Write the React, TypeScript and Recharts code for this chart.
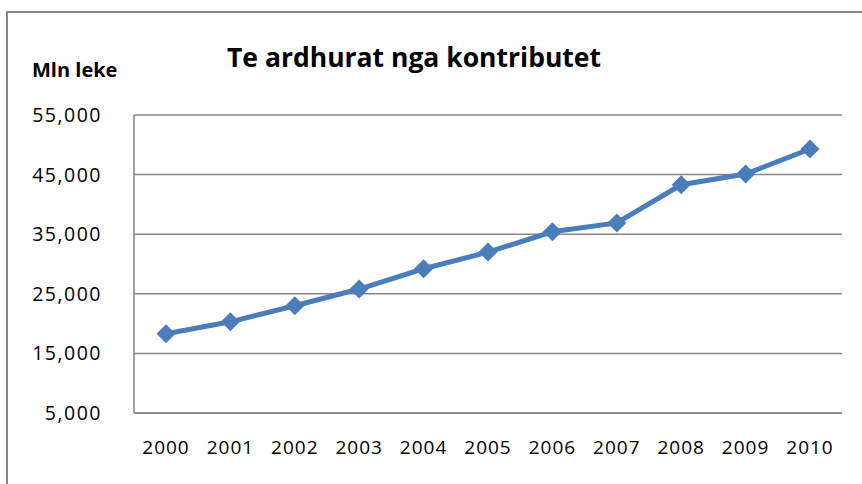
import React from "react";
import { LineChart, Line, XAxis, YAxis, CartesianGrid } from "recharts";

const years = ["2000", "2001", "2002", "2003", "2004", "2005", "2006", "2007", "2008", "2009", "2010"];
const revenue = [18300, 20300, 23000, 25800, 29200, 32000, 35400, 36900, 43300, 45100, 49300];
const yTicks = [5000, 15000, 25000, 35000, 45000, 55000];

const data = years.map((year, i) => ({ year, revenue: revenue[i] }));

const font = "'Open Sans', 'Liberation Sans', sans-serif";
const gray = "#878787";
const blue = "#4a7ebb";

// diamond marker drawn at the point recharts gives us
const Diamond = (props: any) => {
  const { cx, cy } = props;
  if (cx == null || cy == null) return null;
  const r = 9.5;
  return (
    <polygon
      points={`${cx},${cy - r} ${cx + r},${cy} ${cx},${cy + r} ${cx - r},${cy}`}
      fill={blue}
    />
  );
};

export default function App() {
  return (
    <div
      style={{
        position: "absolute",
        left: 0,
        top: 0,
        width: 862,
        height: 484,
        overflow: "hidden",
        background: "#fff",
        fontFamily: font,
      }}
    >
      <div
        style={{
          position: "absolute",
          left: 6,
          top: 11,
          width: 900,
          height: 520,
          border: `2px solid ${gray}`,
        }}
      />
      <div
        style={{
          position: "absolute",
          left: 0,
          width: 828,
          top: 39,
          textAlign: "center",
          fontSize: 26.5,
          fontWeight: 700,
          color: "#000",
        }}
      >
        Te ardhurat nga kontributet
      </div>
      <div
        style={{
          position: "absolute",
          left: 32,
          top: 56,
          fontSize: 20,
          fontWeight: 700,
          color: "#000",
        }}
      >
        Mln leke
      </div>
      <div style={{ position: "absolute", left: 0, top: 0 }}>
        <LineChart
          width={862}
          height={484}
          data={data}
          margin={{ top: 115, right: 20, left: 0, bottom: 0 }}
        >
          <CartesianGrid vertical={false} stroke={gray} strokeWidth={1.5} />
          <XAxis
            dataKey="year"
            height={71}
            padding={{ left: 32, right: 32 }}
            axisLine={{ stroke: gray, strokeWidth: 1.5 }}
            tickLine={false}
            tickMargin={22}
            tick={{ fill: "#000", fontSize: 19, fontFamily: font, letterSpacing: 1 }}
            interval={0}
          />
          <YAxis
            width={134}
            domain={[5000, 55000]}
            ticks={yTicks}
            axisLine={{ stroke: gray, strokeWidth: 1.5 }}
            tickLine={false}
            tickMargin={26}
            tickFormatter={(v: number) => v.toLocaleString("en-US")}
            tick={{ fill: "#000", fontSize: 19.5, fontFamily: font, letterSpacing: 1.5 }}
          />
          <Line
            type="linear"
            dataKey="revenue"
            stroke={blue}
            strokeWidth={5}
            dot={<Diamond />}
            activeDot={false}
            isAnimationActive={false}
          />
        </LineChart>
      </div>
    </div>
  );
}
